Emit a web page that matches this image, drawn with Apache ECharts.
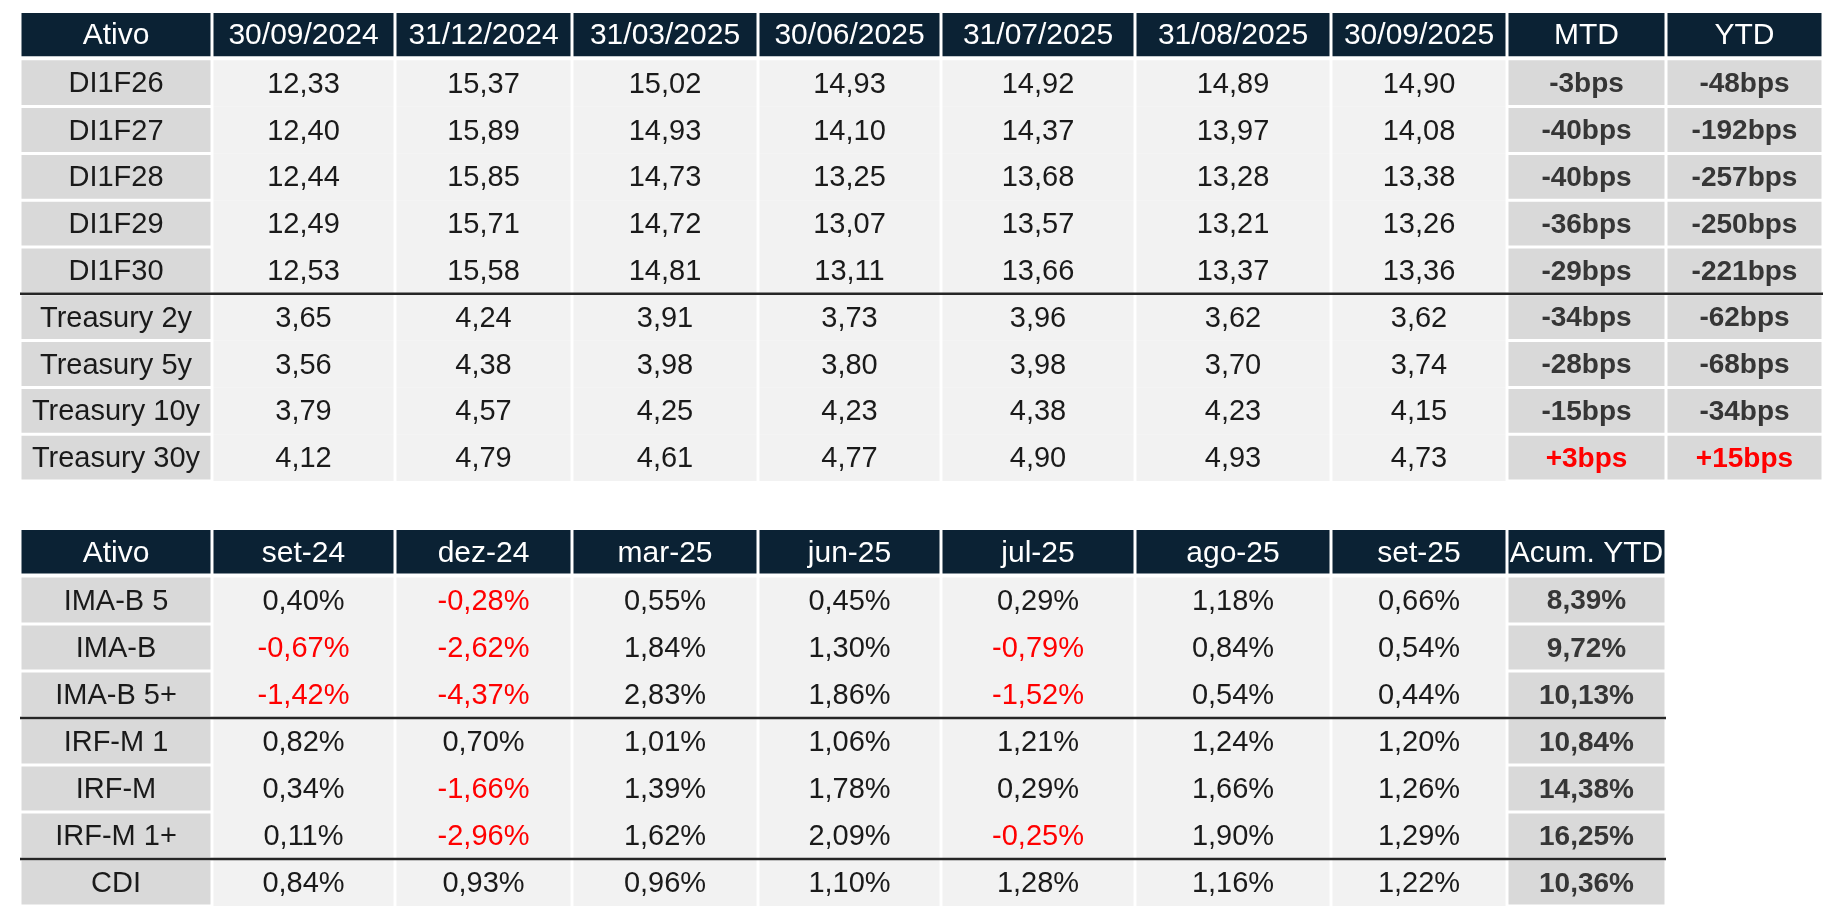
<!DOCTYPE html>
<html lang="pt-BR">
<head>
    <meta charset="UTF-8">
    <title>Juros e índices</title>

    <script src="https://cdn.jsdelivr.net/npm/echarts@6/dist/echarts.min.js"></script>

    <style>
        html, body {
            margin: 0;
            padding: 0;
            background: #ffffff;
        }
        #tabela {
            width: 1836px;
            height: 924px;
        }
    </style>
</head>
<body>

<div id="tabela"></div>

<script>
    // ---- tabela 1: taxas (%) ----
    var topHeader = ['Ativo', '30/09/2024', '31/12/2024', '31/03/2025', '30/06/2025', '31/07/2025', '31/08/2025', '30/09/2025', 'MTD', 'YTD'];
    var topAssets = ['DI1F26', 'DI1F27', 'DI1F28', 'DI1F29', 'DI1F30', 'Treasury 2y', 'Treasury 5y', 'Treasury 10y', 'Treasury 30y'];

    var di1f26 = [12.33, 15.37, 15.02, 14.93, 14.92, 14.89, 14.90];
    var di1f27 = [12.40, 15.89, 14.93, 14.10, 14.37, 13.97, 14.08];
    var di1f28 = [12.44, 15.85, 14.73, 13.25, 13.68, 13.28, 13.38];
    var di1f29 = [12.49, 15.71, 14.72, 13.07, 13.57, 13.21, 13.26];
    var di1f30 = [12.53, 15.58, 14.81, 13.11, 13.66, 13.37, 13.36];
    var ust2y  = [3.65, 4.24, 3.91, 3.73, 3.96, 3.62, 3.62];
    var ust5y  = [3.56, 4.38, 3.98, 3.80, 3.98, 3.70, 3.74];
    var ust10y = [3.79, 4.57, 4.25, 4.23, 4.38, 4.23, 4.15];
    var ust30y = [4.12, 4.79, 4.61, 4.77, 4.90, 4.93, 4.73];

    var mtdBps = [-3, -40, -40, -36, -29, -34, -28, -15, 3];
    var ytdBps = [-48, -192, -257, -250, -221, -62, -68, -34, 15];

    // ---- tabela 2: retornos mensais (%) ----
    var botHeader = ['Ativo', 'set-24', 'dez-24', 'mar-25', 'jun-25', 'jul-25', 'ago-25', 'set-25', 'Acum. YTD'];
    var botAssets = ['IMA-B 5', 'IMA-B', 'IMA-B 5+', 'IRF-M 1', 'IRF-M', 'IRF-M 1+', 'CDI'];

    var imab5     = [0.40, -0.28, 0.55, 0.45, 0.29, 1.18, 0.66];
    var imab      = [-0.67, -2.62, 1.84, 1.30, -0.79, 0.84, 0.54];
    var imab5mais = [-1.42, -4.37, 2.83, 1.86, -1.52, 0.54, 0.44];
    var irfm1     = [0.82, 0.70, 1.01, 1.06, 1.21, 1.24, 1.20];
    var irfm      = [0.34, -1.66, 1.39, 1.78, 0.29, 1.66, 1.26];
    var irfm1mais = [0.11, -2.96, 1.62, 2.09, -0.25, 1.90, 1.29];
    var cdi       = [0.84, 0.93, 0.96, 1.10, 1.28, 1.16, 1.22];

    var acumYtd = [8.39, 9.72, 10.13, 10.84, 14.38, 16.25, 10.36];

    var topRates = [di1f26, di1f27, di1f28, di1f29, di1f30, ust2y, ust5y, ust10y, ust30y];
    var botRets = [imab5, imab, imab5mais, irfm1, irfm, irfm1mais, cdi];

    // ---- layout (larguras das colunas, linhas divisórias) ----
    var colWidths = [192, 183, 177, 186, 183, 194, 196, 176, 159, 157];
    var topDividers = [6];
    var botDividers = [4, 7];

    var edges = [0];
    colWidths.forEach(function (w) { edges.push(edges[edges.length - 1] + w); });

    var FONT = '"Liberation Sans", Arial, sans-serif';
    var C_HEAD = '#0b2234', C_BOX = '#d9d9d9', C_VAL = '#f2f2f2';
    var C_TXT = '#1a1a1a', C_RED = '#ff0000';

    function fmt(v) { return v.toFixed(2).replace('.', ','); }
    function fmtBps(v) { return (v > 0 ? '+' : '') + v + 'bps'; }

    function buildCells(header, assets, rows, extra, dividers) {
        var cells = [];
        header.forEach(function (h, c) {
            cells.push({ col: c, row: 0, text: h, kind: 'head', color: '#ffffff', bold: false });
        });
        assets.forEach(function (a, i) {
            var r = i + 1;
            var div = dividers.indexOf(r) >= 0;
            cells.push({ col: 0, row: r, text: a, kind: 'box', color: C_TXT, bold: false, divider: div });
            rows[i].forEach(function (v, j) {
                var t = extra.pct ? fmt(v) + '%' : fmt(v);
                var col = (extra.pct && v < 0) ? C_RED : C_TXT;
                cells.push({ col: j + 1, row: r, text: t, kind: 'val', color: col, bold: false, divider: div });
            });
            extra.cols.forEach(function (arr, k) {
                var v = arr[i];
                var t = extra.pct ? fmt(v) + '%' : fmtBps(v);
                var col = (!extra.pct && v > 0) ? C_RED : '#363636';
                cells.push({ col: rows[i].length + 1 + k, row: r, text: t, kind: 'box', color: col, bold: true, divider: div });
            });
        });
        return cells;
    }

    var topCells = buildCells(topHeader, topAssets, topRates, { pct: false, cols: [mtdBps, ytdBps] }, topDividers);
    var botCells = buildCells(botHeader, botAssets, botRets, { pct: true, cols: [acumYtd] }, botDividers);

    function makeRender(cells) {
        return function (params, api) {
            var c = cells[params.dataIndex];
            var col = api.value(0), row = api.value(1);
            var p0 = api.coord([edges[col], row]);
            var p1 = api.coord([edges[col + 1], row + 1]);
            var x = p0[0], y = p0[1], w = p1[0] - p0[0], h = p1[1] - p0[1];

            var ins;
            if (c.kind === 'head') ins = [0, 1.5, 3.5, 1.5];
            else if (c.kind === 'box') ins = [1.5, 1.5, 1.5, 1.5];
            else ins = [0, 1.5, 0, 1.5];
            if (c.kind !== 'head' && row === 1) ins[0] = 0.5;

            var fill = c.kind === 'head' ? C_HEAD : (c.kind === 'box' ? C_BOX : C_VAL);
            var size = c.kind === 'head' ? 30 : (c.bold ? 28 : 29);
            var children = [{
                type: 'rect',
                shape: { x: x + ins[3], y: y + ins[0], width: w - ins[1] - ins[3], height: h - ins[0] - ins[2] },
                style: { fill: fill },
                textContent: {
                    style: {
                        text: c.text,
                        fill: c.color,
                        font: (c.bold ? 'bold ' : '') + size + 'px ' + FONT
                    }
                },
                textConfig: { position: 'inside', offset: [0, 1.5] }
            }];
            if (c.divider) {
                children.push({
                    type: 'line',
                    shape: { x1: x, y1: y, x2: x + w, y2: y },
                    style: { stroke: '#262626', lineWidth: 2.5 }
                });
            }
            return { type: 'group', children: children };
        };
    }

    function cellData(cells) {
        return cells.map(function (c) { return [c.col, c.row]; });
    }

    var chart = echarts.init(document.getElementById('tabela'));

    var option = {
        animation: false,
        grid: [
            { left: 20, top: 13, width: 1803, height: 468 },
            { left: 20, top: 530, width: 1803, height: 376 }
        ],
        xAxis: [
            { type: 'value', gridIndex: 0, min: 0, max: edges[edges.length - 1], show: false },
            { type: 'value', gridIndex: 1, min: 0, max: edges[edges.length - 1], show: false }
        ],
        yAxis: [
            { type: 'value', gridIndex: 0, min: 0, max: topAssets.length + 1, inverse: true, show: false },
            { type: 'value', gridIndex: 1, min: 0, max: botAssets.length + 1, inverse: true, show: false }
        ],
        series: [
            {
                type: 'custom',
                xAxisIndex: 0,
                yAxisIndex: 0,
                clip: false,
                renderItem: makeRender(topCells),
                data: cellData(topCells)
            },
            {
                type: 'custom',
                xAxisIndex: 1,
                yAxisIndex: 1,
                clip: false,
                renderItem: makeRender(botCells),
                data: cellData(botCells)
            }
        ]
    };

    chart.setOption(option);
</script>
</body>
</html>
